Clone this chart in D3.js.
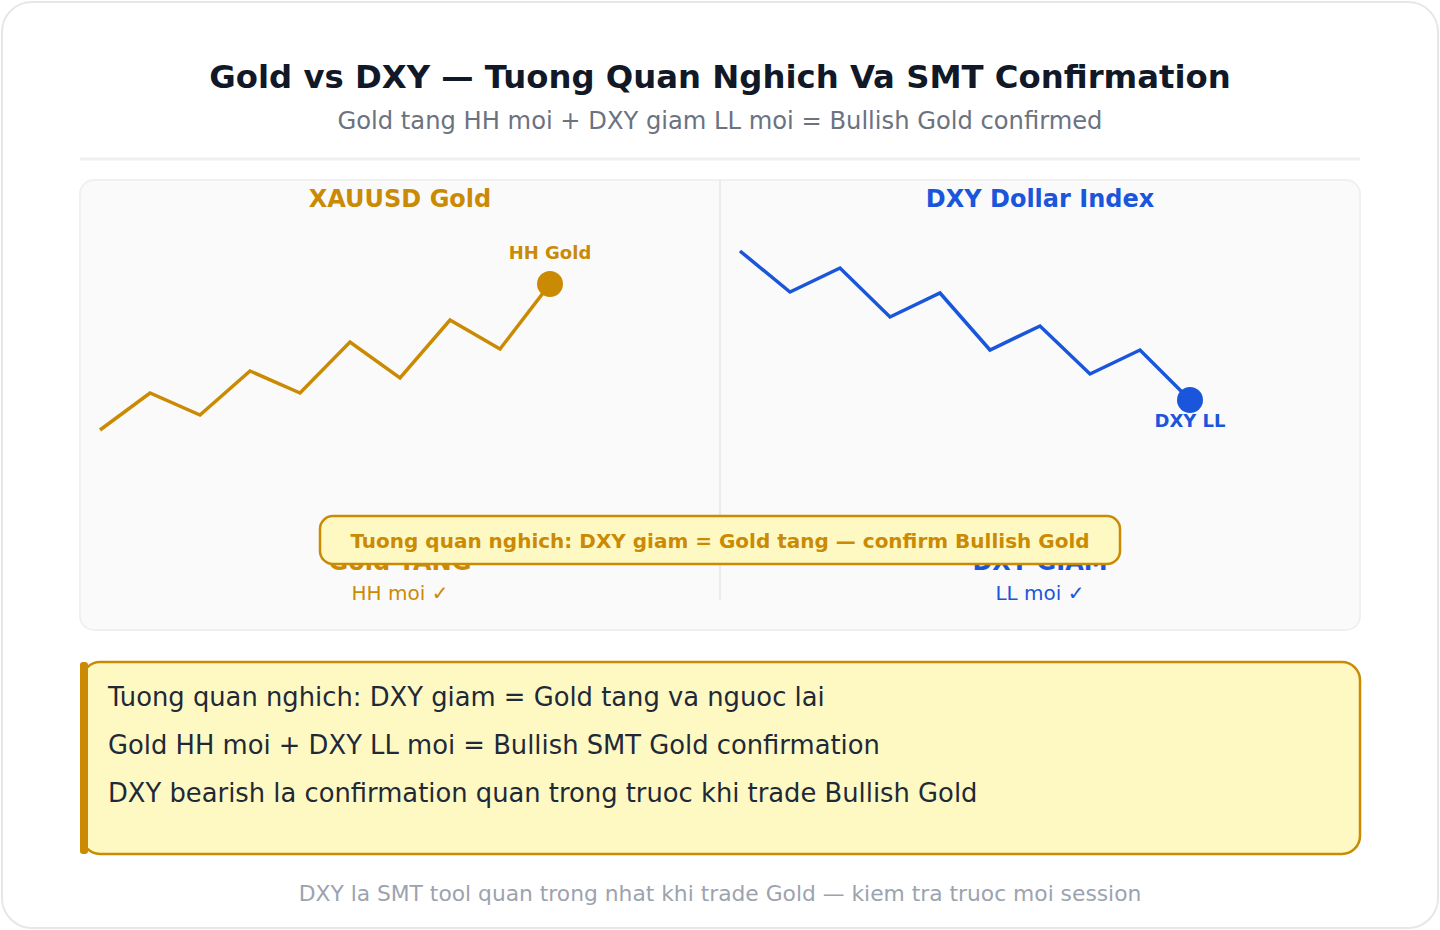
<!DOCTYPE html>
<html>
<head>
<meta charset="utf-8">
<script src="https://cdn.jsdelivr.net/npm/d3@7"></script>
<style>
  body { margin:0; background:#fff; font-family:"DejaVu Sans", sans-serif; }
</style>
</head>
<body>
<div id="chart"></div>
<script>
// swing points (relative strength units 0-100)
var swings = [0,1,2,3,4,5,6,7,8,9];
var goldVals = [10, 28.5, 17.5, 39.5, 28.5, 54, 36, 65, 50.5, 83];
var dxyVals = [99.5, 79, 91, 66.5, 78.5, 50, 62, 38, 50, 25];
var panelTitles = ["XAUUSD Gold", "DXY Dollar Index"];
var panelStates = ["Gold TANG", "DXY GIAM"];
var panelSubs = ["HH moi \u2713", "LL moi \u2713"];
var pointLabels = ["HH Gold", "DXY LL"];
var notes = [
  "Tuong quan nghich: DXY giam = Gold tang va nguoc lai",
  "Gold HH moi + DXY LL moi = Bullish SMT Gold confirmation",
  "DXY bearish la confirmation quan trong truoc khi trade Bullish Gold"
];

var W = 1440, H = 930;
var gold = "#ca8a04", blue = "#1a56db";

var svg = d3.select("#chart").append("svg")
    .attr("width", W).attr("height", H)
    .style("font-family", "'DejaVu Sans', sans-serif");

// outer card
svg.append("rect").attr("x", 2).attr("y", 2).attr("width", W - 4).attr("height", H - 4)
    .attr("rx", 30).attr("fill", "#fff").attr("stroke", "#e5e7eb").attr("stroke-width", 2);

svg.append("text").attr("x", 720).attr("y", 79).attr("text-anchor", "middle")
    .attr("dominant-baseline", "middle")
    .attr("font-size", 32.3).attr("font-weight", "bold").attr("fill", "#111827")
    .text("Gold vs DXY \u2014 Tuong Quan Nghich Va SMT Confirmation");
svg.append("text").attr("x", 720).attr("y", 122).attr("text-anchor", "middle")
    .attr("dominant-baseline", "middle")
    .attr("font-size", 24.2).attr("fill", "#6b7280")
    .text("Gold tang HH moi + DXY giam LL moi = Bullish Gold confirmed");
svg.append("line").attr("x1", 80).attr("x2", 1360).attr("y1", 159).attr("y2", 159)
    .attr("stroke", "#f0f0f0").attr("stroke-width", 3);

// panel
svg.append("rect").attr("x", 80).attr("y", 180).attr("width", 1280).attr("height", 450)
    .attr("rx", 14).attr("fill", "#fafafa").attr("stroke", "#f0f0f0").attr("stroke-width", 2);
svg.append("line").attr("x1", 720).attr("x2", 720).attr("y1", 180).attr("y2", 600)
    .attr("stroke", "#e5e7eb").attr("stroke-width", 1.5);

var y = d3.scaleLinear().domain([0, 100]).range([450, 250]);
var xGold = d3.scaleLinear().domain([0, 9]).range([100, 550]);
var xDxy = d3.scaleLinear().domain([0, 9]).range([740, 1190]);

var panels = [
  { cx: 400, color: gold, x: xGold, vals: goldVals, labelDy: -30 },
  { cx: 1040, color: blue, x: xDxy, vals: dxyVals, labelDy: 22 }
];

panels.forEach(function(p, i) {
  var g = svg.append("g");
  g.append("text").attr("x", p.cx).attr("y", 200).attr("text-anchor", "middle")
      .attr("dominant-baseline", "middle")
      .attr("font-size", 24).attr("font-weight", "bold").attr("fill", p.color)
      .text(panelTitles[i]);

  var line = d3.line().x(function(d) { return p.x(d); }).y(function(d) { return y(p.vals[d]); });
  g.append("path").datum(swings).attr("d", line)
      .attr("fill", "none").attr("stroke", p.color).attr("stroke-width", 3.5)
      .attr("stroke-linejoin", "miter");

  var last = swings[swings.length - 1];
  g.append("circle").attr("cx", p.x(last)).attr("cy", y(p.vals[last])).attr("r", 13)
      .attr("fill", p.color);
  g.append("text").attr("x", p.x(last)).attr("y", y(p.vals[last]) + p.labelDy)
      .attr("text-anchor", "middle").attr("dominant-baseline", "middle")
      .attr("font-size", 18).attr("font-weight", "bold").attr("fill", p.color)
      .text(pointLabels[i]);

  // state label sits partly behind the callout, as in the source
  g.append("text").attr("x", p.cx).attr("y", 563).attr("text-anchor", "middle")
      .attr("dominant-baseline", "middle")
      .attr("font-size", 24).attr("font-weight", "bold").attr("fill", p.color)
      .text(panelStates[i]);
  g.append("text").attr("x", p.cx).attr("y", 594).attr("text-anchor", "middle")
      .attr("dominant-baseline", "middle")
      .attr("font-size", 20).attr("fill", p.color)
      .text(panelSubs[i]);
});

// callout covering the state labels
svg.append("rect").attr("x", 320).attr("y", 516).attr("width", 800).attr("height", 48)
    .attr("rx", 13).attr("fill", "#fef9c3").attr("stroke", gold).attr("stroke-width", 2.5);
svg.append("text").attr("x", 720).attr("y", 542).attr("text-anchor", "middle")
    .attr("dominant-baseline", "middle")
    .attr("font-size", 20).attr("font-weight", "bold").attr("fill", gold)
    .text("Tuong quan nghich: DXY giam = Gold tang \u2014 confirm Bullish Gold");

// note box
svg.append("rect").attr("x", 82).attr("y", 662).attr("width", 1278).attr("height", 192)
    .attr("rx", 18).attr("fill", "#fef9c3").attr("stroke", gold).attr("stroke-width", 2.5);
svg.append("rect").attr("x", 80).attr("y", 662).attr("width", 8).attr("height", 192)
    .attr("rx", 3).attr("fill", gold);
svg.selectAll(".note").data(notes).enter().append("text")
    .attr("class", "note")
    .attr("x", 108).attr("y", function(d, i) { return 698 + i * 48; })
    .attr("dominant-baseline", "middle")
    .attr("font-size", 25.8).attr("fill", "#1f2937")
    .text(function(d) { return d; });

svg.append("text").attr("x", 720).attr("y", 895).attr("text-anchor", "middle")
    .attr("dominant-baseline", "middle")
    .attr("font-size", 21.8).attr("fill", "#9ca3af")
    .text("DXY la SMT tool quan trong nhat khi trade Gold \u2014 kiem tra truoc moi session");
</script>
</body>
</html>
